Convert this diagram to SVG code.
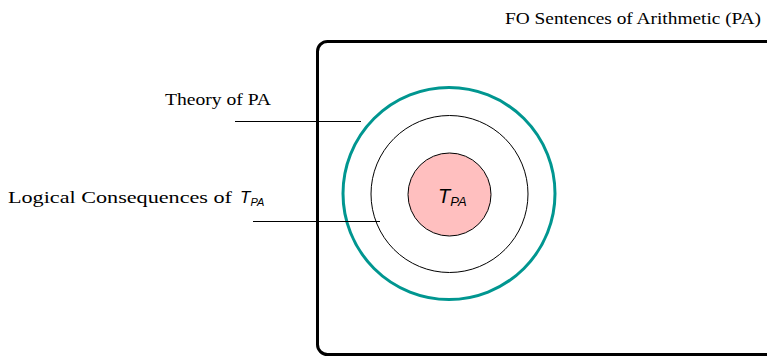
<svg xmlns="http://www.w3.org/2000/svg" width="767" height="357" viewBox="0 0 767 357">
<style>
.lbl{font-family:"Liberation Serif",serif;font-size:17px;fill:#000}
.cm{font-family:"Liberation Serif",serif;font-size:16px;fill:#000}
.t{font-family:"Liberation Sans",Arial,sans-serif;font-style:italic;fill:#000}
.ln{stroke:#000;stroke-width:1;fill:none}
</style>
<rect width="767" height="357" fill="#fff"/>
<g id="universe">
<rect x="317.5" y="41.5" width="460" height="313" rx="10" fill="none" stroke="#000" stroke-width="3"/>
<text class="lbl" x="505" y="24" textLength="256" lengthAdjust="spacingAndGlyphs">FO Sentences of Arithmetic (PA)</text>
</g>
<g id="theory">
<circle cx="449" cy="193.5" r="106" fill="none" stroke="#009690" stroke-width="3"/>
<text class="lbl" x="165" y="105" textLength="106" lengthAdjust="spacingAndGlyphs">Theory of PA</text>
</g>
<g id="consequences">
<circle cx="449.5" cy="194" r="78.5" fill="none" stroke="#000" stroke-width="1"/>
<text class="cm" x="8" y="203" textLength="224" lengthAdjust="spacingAndGlyphs">Logical Consequences of</text>
<text class="t" x="240" y="203" font-size="17">T<tspan font-size="11" dy="3">PA</tspan></text>
</g>
<g id="tpa">
<circle cx="449.5" cy="194.5" r="41.5" fill="#ffbfbf" stroke="#000" stroke-width="1"/>
<text class="t" x="438" y="203" font-size="20">T<tspan font-size="13" dy="3">PA</tspan></text>
</g>
<g id="connectors">
<line class="ln" x1="235" y1="121.5" x2="361" y2="121.5"/>
<line class="ln" x1="253" y1="221.5" x2="380" y2="221.5"/>
</g>
</svg>
